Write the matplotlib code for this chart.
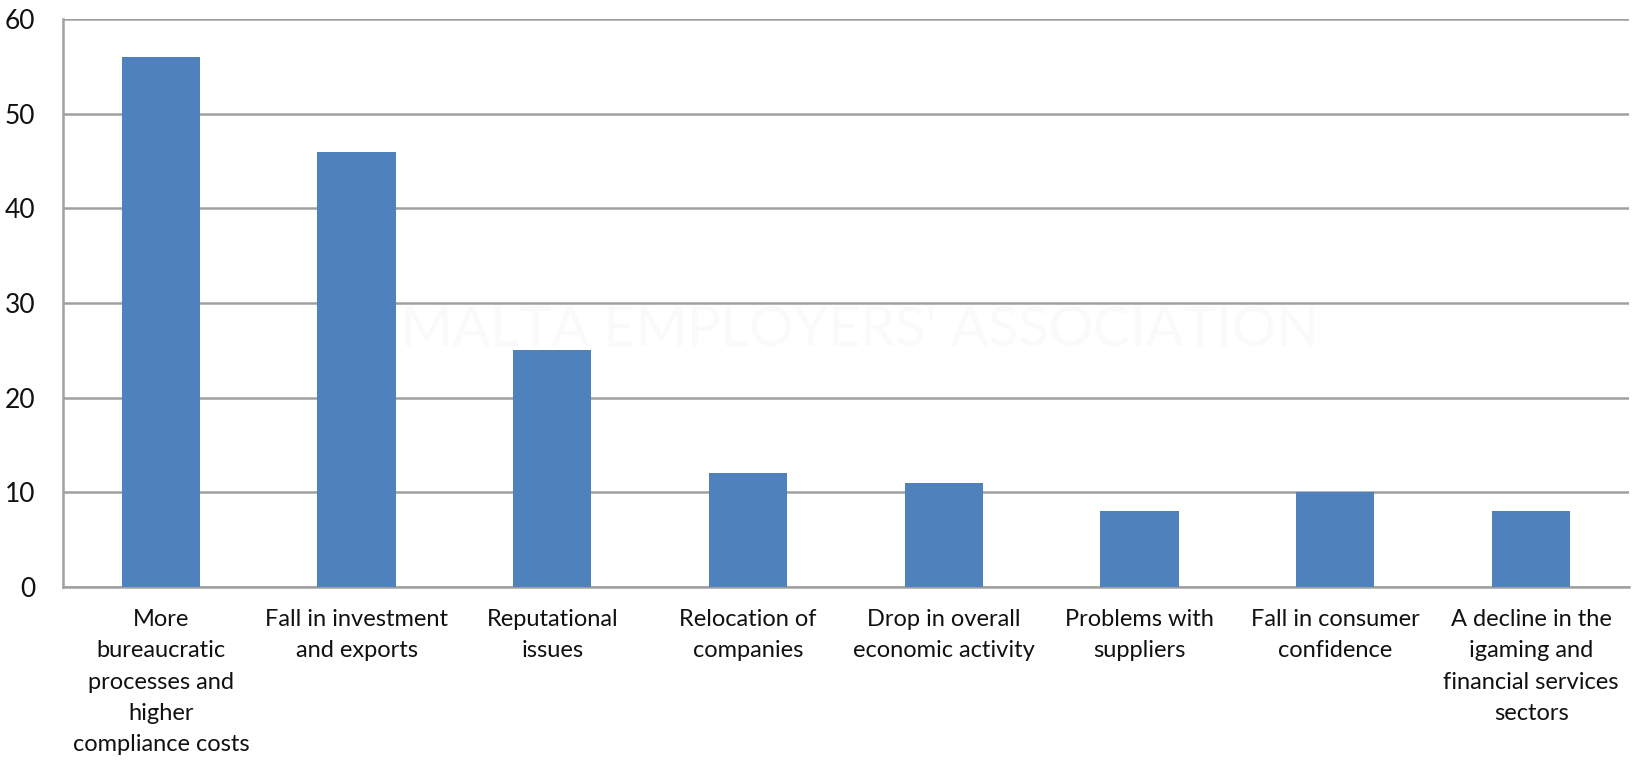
import matplotlib.pyplot as plt

plt.rcParams['font.family'] = ['Lato', 'DejaVu Sans']

# survey responses per expected impact
categories = [
    "More\nbureaucratic\nprocesses and\nhigher\ncompliance costs",
    "Fall in investment\nand exports",
    "Reputational\nissues",
    "Relocation of\ncompanies",
    "Drop in overall\neconomic activity",
    "Problems with\nsuppliers",
    "Fall in consumer\nconfidence",
    "A decline in the\nigaming and\nfinancial services\nsectors",
]
values = [56, 46, 25, 12, 11, 8, 10, 8]
yticks = [0, 10, 20, 30, 40, 50, 60]

fig = plt.figure(figsize=(16.35, 7.66), dpi=100)
ax = fig.add_axes([0.0385, 0.2337, 0.9578, 0.7413])

x = range(len(values))
ax.bar(x, values, width=0.4, color='#4F81BD', zorder=3)

ax.set_xlim(-0.5, len(values) - 0.5)
ax.set_ylim(0, 60)
ax.set_yticks(yticks)
ax.set_xticks(list(x))
ax.set_xticklabels(categories, fontsize=17, color='#111111', linespacing=1.6)
ax.tick_params(axis='y', labelsize=19, length=0, pad=20, labelcolor='#111111')
ax.tick_params(axis='x', length=0, pad=16)

ax.grid(axis='y', color='#a0a0a0', linewidth=1.8, zorder=0)
for side in ['top', 'right']:
    ax.spines[side].set_visible(False)
ax.spines['left'].set_color('#a0a0a0')
ax.spines['left'].set_linewidth(1.8)
ax.spines['bottom'].set_color('#a0a0a0')
ax.spines['bottom'].set_linewidth(1.8)

# faint watermark behind the bars
fig.text(0.526, 0.569, "MALTA EMPLOYERS' ASSOCIATION", fontsize=40,
         color='#fafafa', ha='center', va='center', zorder=1)

fig.savefig('out.png', dpi=100)
